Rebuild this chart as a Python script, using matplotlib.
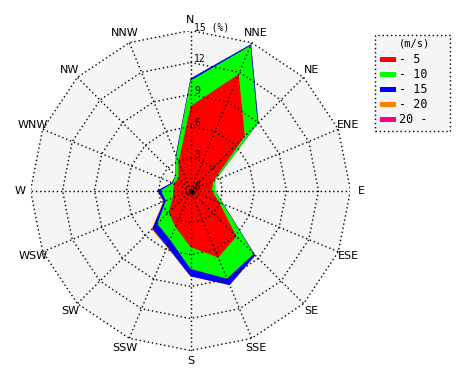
import numpy as np
import matplotlib
matplotlib.use("Agg")
import matplotlib.pyplot as plt
from matplotlib.patches import Rectangle, Polygon

directions = ["N", "NNE", "NE", "ENE", "E", "ESE", "SE", "SSE",
              "S", "SSW", "SW", "WSW", "W", "WNW", "NW", "NNW"]
speed_labels = ["- 5", "- 10", "- 15", "- 20", "20 -"]
speed_colors = ["#ff0000", "#00ff00", "#0000ff", "#ff8000", "#ff0080"]

# frequency (%) per speed class for each direction
freq_0_5 = [7.9, 11.8, 7.2, 2.3, 2.0, 2.9, 6.1, 6.8, 5.3, 3.7, 2.9, 1.8, 1.6, 1.7, 1.6, 2.9]
freq_5_10 = [2.4, 2.9, 1.7, 0.2, 0.3, 0.4, 2.3, 2.15, 2.05, 1.3, 1.5, 0.7, 1.2, 0.1, 0.4, 0.6]
freq_10_15 = [0.2, 0.15, 0.1, 0.0, 0.0, 0.05, 0.2, 0.65, 0.7, 0.7, 0.65, 0.2, 0.3, 0.1, 0.0, 0.1]
freq_15_20 = [0, 0, 0, 0, 0, 0, 0, 0, 0, 0.05, 0.12, 0.08, 0, 0, 0, 0]
freq_20_up = [0] * 16

ring_values = [3, 6, 9, 12, 15]
rmax = 15

classes = np.array([freq_0_5, freq_5_10, freq_10_15, freq_15_20, freq_20_up])
cum = np.cumsum(classes, axis=0)

fig = plt.figure(figsize=(4.7, 3.8), dpi=100)
fig.patch.set_facecolor("white")
W, H = 470, 380
cx, cy, R = 190.5, 190.5, 160
ax = fig.add_axes([(cx - R) / W, (H - cy - R) / H, 2 * R / W, 2 * R / H])
ax.set_xlim(-rmax, rmax)
ax.set_ylim(-rmax, rmax)
ax.set_aspect("equal")
ax.axis("off")

theta = np.deg2rad(np.arange(16) * 22.5)
sx, sy = np.sin(theta), np.cos(theta)

# background 16-gon
ax.add_patch(Polygon(np.column_stack([rmax * sx, rmax * sy]), closed=True,
                     facecolor="#f5f5f5", edgecolor="none", zorder=0))

# filled stacked polygons, outermost first
for k in range(4, -1, -1):
    r = cum[k]
    if np.all(classes[k] == 0) and k == 4:
        continue
    ax.fill(r * sx, r * sy, color=speed_colors[k], lw=0, zorder=1 + (4 - k))

# grid
for rv in ring_values:
    xs = np.append(rv * sx, rv * sx[0])
    ys = np.append(rv * sy, rv * sy[0])
    ax.plot(xs, ys, color="black", ls=(0, (1, 2)), lw=1.0, zorder=10)
for i in range(16):
    ax.plot([0, rmax * sx[i]], [0, rmax * sy[i]], color="black",
            ls=(0, (1, 2)), lw=1.0, zorder=10)
ax.plot([0], [0], "o", color="black", ms=3, zorder=11)

# ring labels
ax.text(0.35, 0.3, "0", fontsize=7, family="DejaVu Sans Mono", ha="left", va="center", zorder=12)
for rv in ring_values:
    lab = f"{rv}" + (" (%)" if rv == 15 else "")
    ax.text(0.35, rv + 0.3, lab, fontsize=7, family="DejaVu Sans Mono",
            ha="left", va="center", zorder=12)

# direction labels
for i, d in enumerate(directions):
    ax.text(16.0 * sx[i], 16.0 * sy[i], d, fontsize=8, ha="center", va="center",
            family="DejaVu Sans", clip_on=False)

# legend
lx0, ly0, lw_, lh_ = 375, 35, 75, 96
fig.patches.append(Rectangle((lx0 / W, 1 - (ly0 + lh_) / H), lw_ / W, lh_ / H,
                             transform=fig.transFigure, facecolor="#f5f5f5",
                             edgecolor="black", ls=(0, (1, 2)), lw=1.0))
fig.text((lx0 + lw_ / 2 + 2) / W, 1 - 44 / H, "(m/s)", fontsize=7.5,
         family="DejaVu Sans Mono", ha="center", va="center")
for j, (lab, col) in enumerate(zip(speed_labels, speed_colors)):
    yc = 59.5 + 15 * j
    fig.patches.append(Rectangle((380 / W, 1 - (yc + 2.5) / H), 16 / W, 5 / H,
                                 transform=fig.transFigure, facecolor=col,
                                 edgecolor="none"))
    fig.text(399 / W, 1 - yc / H, lab, fontsize=8.5, family="DejaVu Sans Mono",
             ha="left", va="center")

fig.savefig("out.png", dpi=100, facecolor="white")
